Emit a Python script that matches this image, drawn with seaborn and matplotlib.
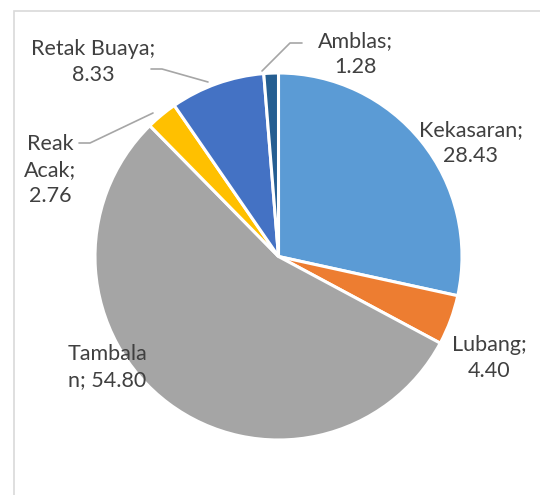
import matplotlib
matplotlib.use("Agg")
import matplotlib.pyplot as plt
import seaborn as sns
from matplotlib.patches import Rectangle

categories = ["Kekasaran", "Lubang", "Tambalan", "Reak Acak", "Retak Buaya", "Amblas"]
values = [28.43, 4.40, 54.80, 2.76, 8.33, 1.28]
label_texts = ["Kekasaran;\n28.43", "Lubang;\n4.40", "Tambala\nn; 54.80",
               "Reak\nAcak;\n2.76", "Retak Buaya;\n8.33", "Amblas;\n1.28"]
colors = ["#5B9BD5", "#ED7D31", "#A5A5A5", "#FFC000", "#4472C4", "#255E91"]

sns.set_theme(style="white")
plt.rcParams['font.family'] = ['Lato', 'DejaVu Sans']

W, H = 540, 495
fig = plt.figure(figsize=(W / 100, H / 100), dpi=100)
ax = fig.add_axes([0, 0, 1, 1])
ax.set_xlim(0, W)
ax.set_ylim(0, H)
ax.axis("off")

def Y(p):
    return H - p

# chart border
ax.add_patch(Rectangle((14, Y(600)), 700, 600 - 11, fill=False,
                       edgecolor="#D9D9D9", linewidth=1.2))

cx, cy, r = 278.5, 256.5, 183.5
ax.pie(values, colors=colors, startangle=90, counterclock=False,
       center=(cx, Y(cy)), radius=r, frame=True,
       wedgeprops=dict(edgecolor="white", linewidth=2.2))
ax.set_xlim(0, W)
ax.set_ylim(0, H)
ax.axis("off")

label_pos = [(471, 143), (489, 358), (107, 367), (50, 170), (93, 62), (355, 54)]
for txt, (lx, ly) in zip(label_texts, label_pos):
    ax.text(lx, Y(ly), txt, ha="center", va="center", fontsize=15.5,
            color="#404040", linespacing=1.36)

leaders = [
    [(262, 71), (290, 43), (302, 43)],
    [(151, 69), (162, 69), (208, 82)],
    [(79, 143), (90, 143), (153, 113)],
]
for pts in leaders:
    ax.plot([p[0] for p in pts], [Y(p[1]) for p in pts], color="#A6A6A6", lw=1.2)

fig.savefig("out.png", dpi=100)
